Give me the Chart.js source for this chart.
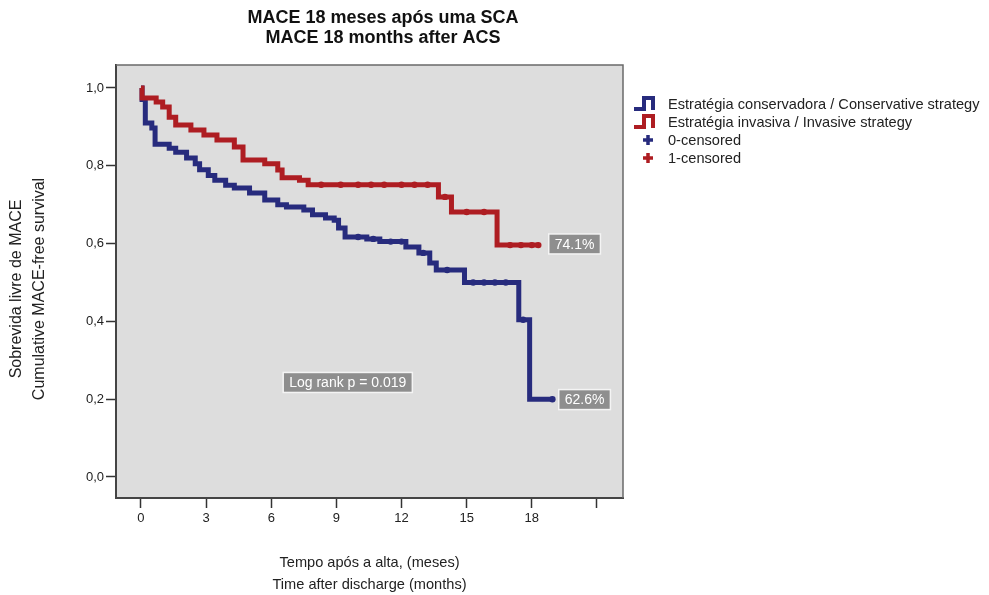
<!DOCTYPE html>
<html><head><meta charset="utf-8">
<script src="https://cdn.jsdelivr.net/npm/chart.js@4.4.1/dist/chart.umd.min.js"></script>
<style>html,body{margin:0;padding:0;background:#fff}#wrap{width:989px;height:595px;position:relative}</style>
</head><body><div id="wrap"><canvas id="c" width="989" height="595"></canvas></div>
<script>
// ---- text ----
const titleLines = ['MACE 18 meses após uma SCA', 'MACE 18 months after ACS'];
const xTitle = ['Tempo após a alta, (meses)', 'Time after discharge (months)'];
const yTitle = ['Sobrevida livre de MACE', 'Cumulative MACE-free survival'];
const seriesNames = ['Estratégia conservadora / Conservative strategy', 'Estratégia invasiva / Invasive strategy', '0-censored', '1-censored'];
// ---- ticks ----
const xTickValues = [0, 3, 6, 9, 12, 15, 18, 21];
const xTickLabels = ['0', '3', '6', '9', '12', '15', '18', ''];
const yTickValues = [0, 0.2, 0.4, 0.6, 0.8, 1.0];
const yTickLabels = ['0,0', '0,2', '0,4', '0,6', '0,8', '1,0'];
// ---- Conservative strategy (months, survival) ----
const consTime = [0, 0.05, 0.2, 0.5, 0.65, 1.3, 1.6, 2.1, 2.5, 2.7, 3.1, 3.4, 3.9, 4.3, 5.0, 5.7, 6.3, 6.7, 7.5, 7.9, 8.5, 8.9, 9.1, 9.4, 10.4, 11.0, 12.2, 12.8, 13.3, 13.6, 14.9, 17.4, 17.9, 18.95];
const consSurv = [1.0, 0.97, 0.91, 0.897, 0.855, 0.845, 0.835, 0.82, 0.805, 0.79, 0.775, 0.763, 0.75, 0.743, 0.73, 0.712, 0.70, 0.694, 0.686, 0.674, 0.666, 0.66, 0.64, 0.617, 0.612, 0.605, 0.591, 0.576, 0.55, 0.532, 0.50, 0.404, 0.20, 0.20];
const consCensor = [10.0, 10.7, 11.5, 12.0, 13.0, 14.1, 15.3, 15.8, 16.3, 16.8, 17.6, 18.95];
// ---- Invasive strategy ----
const invTime = [0, 0.05, 0.7, 1.0, 1.3, 1.6, 2.3, 2.9, 3.5, 4.3, 4.7, 5.7, 6.3, 6.5, 7.3, 7.7, 13.7, 14.3, 16.4, 18.3];
const invSurv = [1.0, 0.974, 0.964, 0.951, 0.925, 0.905, 0.892, 0.879, 0.866, 0.848, 0.815, 0.805, 0.789, 0.769, 0.763, 0.751, 0.72, 0.681, 0.596, 0.596];
const invCensor = [8.3, 9.2, 10.0, 10.6, 11.2, 12.0, 12.6, 13.2, 14.0, 15.0, 15.8, 17.0, 17.5, 18.0, 18.3];
// ---- annotation labels ----
const annotTexts = ['74.1%', '62.6%', 'Log rank p = 0.019'];
const annotX = [18.78, 19.24, 6.55];
const annotY = [0.599, 0.199, 0.243];

const BLUE = '#272b7d', RED = '#ae1d22';
const FF = '"Liberation Sans", Arial, Helvetica, sans-serif';

function survAt(times, survs, t) {
  let v = survs[0];
  for (let i = 0; i < times.length; i++) if (times[i] <= t) v = survs[i];
  return v;
}
const pts = (T, S) => T.map((t, i) => ({x: t, y: S[i]}));
const cens = (C, T, S) => C.map(t => ({x: t, y: survAt(T, S, t)}));

const decor = {
  id: 'decor',
  beforeDraw(chart) {
    const {ctx, chartArea: a} = chart;
    ctx.save();
    ctx.fillStyle = '#dddddd';
    ctx.fillRect(a.left, a.top, a.right - a.left, a.bottom - a.top);
    ctx.restore();
  },
  beforeDatasetsDraw(chart) {
    const {ctx, chartArea: a} = chart;
    ctx.save();
    ctx.strokeStyle = '#6a6a6a';
    ctx.lineWidth = 1.5;
    ctx.beginPath();
    ctx.moveTo(a.left, a.top); ctx.lineTo(a.right, a.top); ctx.lineTo(a.right, a.bottom);
    ctx.stroke();
    ctx.restore();
  },
  afterDraw(chart) {
    const {ctx, scales} = chart;
    ctx.save();
    // title
    ctx.fillStyle = '#111';
    ctx.font = 'bold 18px ' + FF;
    ctx.textAlign = 'center';
    ctx.textBaseline = 'middle';
    ctx.fillText(titleLines[0], 383, 18);
    ctx.fillText(titleLines[1], 383, 38);
    // y axis title
    ctx.save();
    ctx.translate(0, 289);
    ctx.rotate(-Math.PI / 2);
    ctx.font = '16px ' + FF;
    ctx.fillStyle = '#222';
    ctx.fillText(yTitle[0], 0, 17);
    ctx.fillText(yTitle[1], 0, 40);
    ctx.restore();
    // legend
    const lx = 668, ly = [104, 122, 140, 158];
    ctx.font = '14.6px ' + FF;
    ctx.textAlign = 'left';
    ctx.fillStyle = '#222';
    seriesNames.forEach((n, i) => ctx.fillText(n, lx, ly[i] + 1));
    ctx.lineWidth = 4;
    ctx.lineJoin = 'miter';
    [[BLUE, ly[0]], [RED, ly[1]]].forEach(([c, y]) => {
      ctx.strokeStyle = c;
      ctx.beginPath();
      ctx.moveTo(634, y + 5); ctx.lineTo(644, y + 5); ctx.lineTo(644, y - 6); ctx.lineTo(653, y - 6); ctx.lineTo(653, y + 6);
      ctx.stroke();
    });
    ctx.lineWidth = 3.5;
    [[BLUE, ly[2]], [RED, ly[3]]].forEach(([c, y]) => {
      ctx.strokeStyle = c;
      ctx.beginPath();
      ctx.moveTo(643, y); ctx.lineTo(653, y);
      ctx.moveTo(648, y - 5); ctx.lineTo(648, y + 5);
      ctx.stroke();
    });
    // annotation boxes
    ctx.font = '14px ' + FF;
    annotTexts.forEach((t, i) => {
      const x0 = scales.x.getPixelForValue(annotX[i]);
      const yc = scales.y.getPixelForValue(annotY[i]);
      const w = ctx.measureText(t).width + 12, h = 20;
      ctx.fillStyle = '#8e8e8e';
      ctx.fillRect(x0, yc - h / 2, w, h);
      ctx.strokeStyle = '#f4f4f4';
      ctx.lineWidth = 1.5;
      ctx.strokeRect(x0, yc - h / 2, w, h);
      ctx.fillStyle = '#ffffff';
      ctx.textAlign = 'left';
      ctx.fillText(t, x0 + 6, yc + 1);
    });
    ctx.restore();
  }
};

new Chart(document.getElementById('c'), {
  type: 'line',
  data: {
    datasets: [
      {label: seriesNames[1], data: pts(invTime, invSurv), stepped: 'before', borderColor: RED, borderWidth: 5, pointRadius: 0, fill: false},
      {label: seriesNames[3], data: cens(invCensor, invTime, invSurv), showLine: false, pointRadius: 3.2, pointBackgroundColor: RED, pointBorderWidth: 0},
      {label: seriesNames[0], data: pts(consTime, consSurv), stepped: 'before', borderColor: BLUE, borderWidth: 5, pointRadius: 0, fill: false},
      {label: seriesNames[2], data: cens(consCensor, consTime, consSurv), showLine: false, pointRadius: 3.2, pointBackgroundColor: BLUE, pointBorderWidth: 0}
    ]
  },
  options: {
    responsive: false,
    animation: false,
    devicePixelRatio: 1,
    layout: {padding: {top: 65, right: 366, left: 0, bottom: 0}},
    plugins: {legend: {display: false}, title: {display: false}, tooltip: {enabled: false}},
    scales: {
      x: {
        type: 'linear', min: -1.15, max: 22.2,
        afterBuildTicks: s => { s.ticks = xTickValues.map(v => ({value: v})); },
        afterFit: s => { s.height = 97; },
        ticks: {callback: (v, i) => xTickLabels[i], font: {family: FF, size: 13}, color: '#222', padding: 3, maxRotation: 0, autoSkip: false},
        grid: {drawOnChartArea: false, drawTicks: true, tickLength: 10, tickColor: '#333', tickWidth: 1.5},
        border: {display: true, color: '#444', width: 2},
        title: {display: true, text: xTitle, color: '#222', font: {family: FF, size: 14.6, lineHeight: 1.5}, padding: {top: 0, bottom: -1}}
      },
      y: {
        min: -0.054, max: 1.059,
        afterBuildTicks: s => { s.ticks = yTickValues.map(v => ({value: v})); },
        afterFit: s => { s.width = 116; },
        ticks: {callback: (v, i) => yTickLabels[i], font: {family: FF, size: 13}, color: '#222', padding: 2},
        grid: {drawOnChartArea: false, drawTicks: true, tickLength: 10, tickColor: '#333', tickWidth: 1.5},
        border: {display: true, color: '#444', width: 2},
        title: {display: false, text: yTitle}
      }
    }
  },
  plugins: [decor]
});
</script>
</body></html>
